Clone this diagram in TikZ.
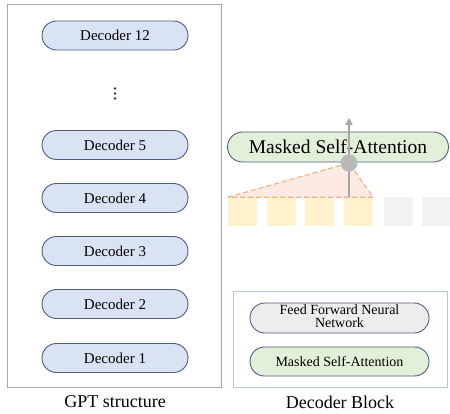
\documentclass[tikz,border=0pt]{standalone}
\usepackage{fontspec}
\setmainfont{Liberation Serif}
\definecolor{pillblue}{HTML}{DAE3F3}
\definecolor{pillgreen}{HTML}{E2F0D9}
\definecolor{pillgray}{HTML}{EDEDED}
\definecolor{pillline}{HTML}{4F5F7F}
\definecolor{sqyellow}{HTML}{FFF2CC}
\definecolor{sqgray}{HTML}{F2F2F2}
\definecolor{dashor}{HTML}{F4B183}
\definecolor{trifill}{HTML}{FCEAE3}
\definecolor{boxblue}{HTML}{B4C7E7}
\definecolor{arrowgray}{HTML}{A6A6A6}
\definecolor{circgray}{HTML}{B8B8B8}
\usetikzlibrary{shapes.misc,arrows.meta}
\tikzset{
  pill/.style={rounded rectangle, draw=pillline, line width=0.9pt, minimum height=29pt, inner sep=0pt},
  dec/.style={pill, fill=pillblue, minimum width=146pt, font=\fontsize{15}{17}\selectfont},
  sq/.style={minimum width=29pt, minimum height=29pt, inner sep=0pt},
  caption/.style={font=\fontsize{18}{20}\selectfont},
}
\begin{document}
\begin{tikzpicture}[x=1pt,y=-1pt]
\useasboundingbox (0,0) rectangle (450,414);
\fill[white] (0,0) rectangle (450,414);
% left box
\draw[gray!70, line width=1pt] (7,5) rectangle (221,387);
\node[dec] (d12) at (115,35.5) {Decoder 12};
\foreach \y in {88.5,93.5,98.5} \fill[black!80] (115,\y) circle (1.3pt);
\node[dec] (d5) at (115,145) {Decoder 5};
\node[dec] (d4) at (115,198) {Decoder 4};
\node[dec] (d3) at (115,251) {Decoder 3};
\node[dec] (d2) at (115,304) {Decoder 2};
\node[dec] (d1) at (115,358) {Decoder 1};
\node[caption] (gpt) at (115,402) {GPT structure};
% squares
\foreach \x/\c [count=\i] in {242.5/sqyellow,281/sqyellow,319.5/sqyellow,358.5/sqyellow,398/sqgray,436.5/sqgray}
  \node[sq, fill=\c] (s\i) at (\x,212) {};
% triangle
\coordinate (tp) at (349,163);
\fill[trifill] (s1.north west) -- (tp) -- (s4.north east) -- cycle;
\draw[dashor, line width=1.2pt, dash pattern=on 5pt off 3pt] (s1.north west) -- (tp) -- (s4.north east) -- cycle;
% big pill
\node[pill, fill=pillgreen, minimum width=221pt, minimum height=30pt, font=\fontsize{19.5}{21}\selectfont] (msa) at (338,147) {Masked Self-Attention};
\coordinate (atop) at (349,118);
\coordinate (abot) at (349,197);
\draw[arrowgray, line width=2pt, -{Triangle[length=7pt,width=7pt]}] (abot) -- (atop);
\fill[circgray] (tp) circle (8.5pt);
% decoder block
\draw[boxblue, line width=0.8pt] (233,291) rectangle (447,387);
\node[pill, fill=pillgray, minimum width=179pt, minimum height=30pt, font=\fontsize{14}{13}\selectfont] (ffn) at (339.5,318) {\begin{tabular}{@{}c@{}}Feed Forward Neural\\[-1pt]Network\end{tabular}};
\node[pill, fill=pillgreen, minimum width=179pt, minimum height=29pt, font=\fontsize{14}{16}\selectfont] (msa2) at (339.5,361.5) {Masked Self-Attention};
\node[caption] (db) at (340,402) {Decoder Block};
\end{tikzpicture}
\end{document}
